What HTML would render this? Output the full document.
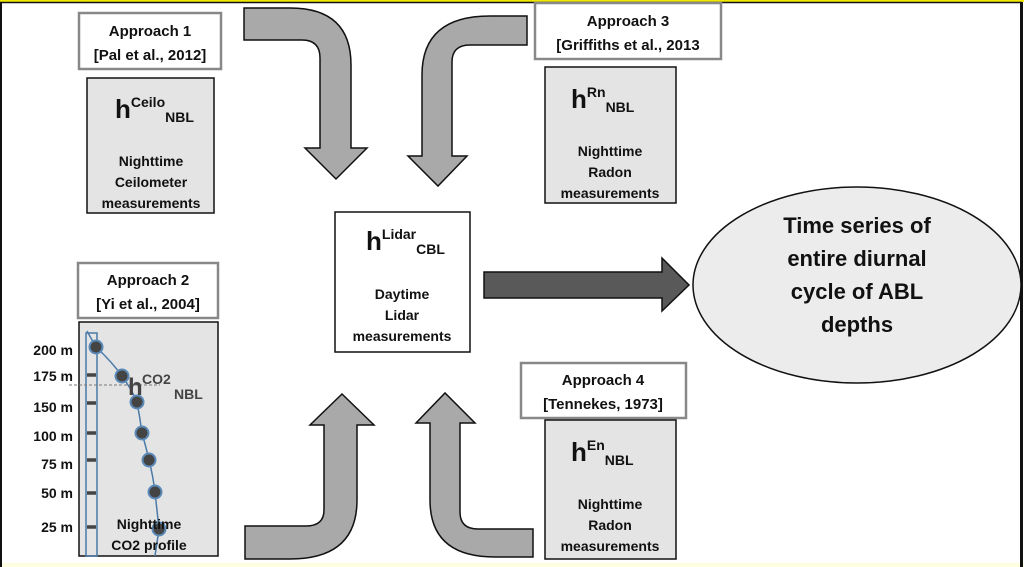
<!DOCTYPE html>
<html><head><meta charset="utf-8"><style>
html,body{margin:0;padding:0;background:#fff}
svg{display:block}
text{font-family:"Liberation Sans",Arial,sans-serif;font-weight:bold;fill:#111}
</style></head><body>
<svg width="1024" height="567" viewBox="0 0 1024 567" xmlns="http://www.w3.org/2000/svg">
<rect x="0" y="0" width="1024" height="567" fill="#fff"/>
<rect x="0" y="563" width="1024" height="4" fill="#fffde0"/>
<rect x="0" y="0" width="1024" height="2" fill="#f0e800"/>
<line x1="0" y1="2.5" x2="1022" y2="2.5" stroke="#111" stroke-width="1.5"/>
<rect x="0" y="2" width="2" height="565" fill="#111"/>
<rect x="1020" y="2" width="3" height="565" fill="#111"/>

<g fill="#a9a9a9" stroke="#111" stroke-width="1.5" stroke-linejoin="miter">
<path d="M244,8 L290,8 Q351,8 351,65 L351,148 L367,148 L336,179 L305,148 L320,148 L320,58 Q320,40 302,40 L244,40 Z"/>
<path d="M527,16 L490,16 Q422,16 422,75 L422,156 L408,156 L438,186 L467,156 L452,156 L452,62 Q452,45 470,45 L527,45 Z"/>
<path d="M245,559 L290,559 Q357,559 357,500 L357,425 L374,425 L342,394 L310,425 L324,425 L324,510 Q324,526 306,526 L245,526 Z"/>
<path d="M533,557 L495,557 Q430,557 430,500 L430,423 L416,423 L445,393 L475,423 L460,423 L460,512 Q460,529 478,529 L533,529 Z"/>
</g>
<path d="M484,272 L662,272 L662,258 L689,285 L662,311 L662,298 L484,298 Z" fill="#595959" stroke="#111" stroke-width="1.5"/>
<ellipse cx="857" cy="285" rx="164" ry="98" fill="#ececec" stroke="#111" stroke-width="1.5"/>
<g font-size="22" text-anchor="middle">
<text x="857" y="233">Time series of</text>
<text x="857" y="266">entire diurnal</text>
<text x="857" y="299">cycle of ABL</text>
<text x="857" y="332">depths</text>
</g>

<g fill="#fff" stroke="#888" stroke-width="2.5">
<rect x="79" y="13" width="142" height="56"/>
<rect x="535" y="3" width="186" height="56"/>
<rect x="78" y="263" width="140" height="55"/>
<rect x="521" y="363" width="165" height="55"/>
</g>
<g font-size="15" text-anchor="middle">
<text x="150" y="36">Approach 1</text><text x="150" y="60">[Pal et al., 2012]</text>
<text x="628" y="26">Approach 3</text><text x="628" y="50">[Griffiths et al., 2013</text>
<text x="148" y="285">Approach 2</text><text x="148" y="309">[Yi et al., 2004]</text>
<text x="603" y="385">Approach 4</text><text x="603" y="409">[Tennekes, 1973]</text>
</g>

<g stroke="#111" stroke-width="1.5">
<rect x="87" y="78" width="127" height="135" fill="#e4e4e4"/>
<rect x="545" y="67" width="131" height="136" fill="#e4e4e4"/>
<rect x="79" y="322" width="139" height="234" fill="#e4e4e4"/>
<rect x="545" y="420" width="131" height="139" fill="#e4e4e4"/>
<rect x="335" y="212" width="135" height="140" fill="#fff"/>
</g>

<g>
<text x="115" y="118" font-size="26">h<tspan font-size="14" dy="-11">Ceilo</tspan><tspan font-size="14" dy="15">NBL</tspan></text>
<text x="571" y="108" font-size="26">h<tspan font-size="14" dy="-11">Rn</tspan><tspan font-size="14" dy="15">NBL</tspan></text>
<text x="571" y="461" font-size="26">h<tspan font-size="14" dy="-11">En</tspan><tspan font-size="14" dy="15">NBL</tspan></text>
<text x="366" y="250" font-size="26">h<tspan font-size="14" dy="-11">Lidar</tspan><tspan font-size="14" dy="15">CBL</tspan></text>
</g>
<g font-size="14" text-anchor="middle">
<text x="151" y="166">Nighttime</text><text x="151" y="187">Ceilometer</text><text x="151" y="208">measurements</text>
<text x="610" y="156">Nighttime</text><text x="610" y="177">Radon</text><text x="610" y="198">measurements</text>
<text x="610" y="509">Nighttime</text><text x="610" y="530">Radon</text><text x="610" y="551">measurements</text>
<text x="402" y="299">Daytime</text><text x="402" y="320">Lidar</text><text x="402" y="341">measurements</text>
</g>

<rect x="86" y="333" width="11" height="223" fill="none" stroke="#4a7aa8" stroke-width="1.5"/>
<g stroke="#444" stroke-width="3.5">
<line x1="87" y1="375" x2="96" y2="375"/><line x1="87" y1="403" x2="96" y2="403"/>
<line x1="87" y1="433" x2="96" y2="433"/><line x1="87" y1="460" x2="96" y2="460"/>
<line x1="87" y1="493" x2="96" y2="493"/><line x1="87" y1="527" x2="96" y2="527"/>
</g>
<line x1="69" y1="385" x2="160" y2="385" stroke="#777" stroke-width="1" stroke-dasharray="3,2"/>
<path d="M87,331 Q92,340 96,347 Q112,362 122,376 Q132,390 137,402 Q140,418 142,433 Q146,447 149,460 Q153,476 155,492 L159,529 L155,556" fill="none" stroke="#4a7aa8" stroke-width="1.5"/>
<g fill="#444" stroke="#5b8ab8" stroke-width="2">
<circle cx="96" cy="347" r="6.5"/><circle cx="122" cy="376" r="6.5"/>
<circle cx="137" cy="402" r="6.5"/><circle cx="142" cy="433" r="6.5"/>
<circle cx="149" cy="460" r="6.5"/><circle cx="155" cy="492" r="6.5"/>
<circle cx="159" cy="529" r="6.5"/>
</g>
<text x="128" y="395" font-size="24" style="fill:#444">h</text>
<text x="142" y="384" font-size="14" style="fill:#444">CO2</text>
<text x="174" y="399" font-size="14" style="fill:#444">NBL</text>
<g font-size="14" text-anchor="end">
<text x="73" y="355">200 m</text><text x="73" y="381">175 m</text>
<text x="73" y="412">150 m</text><text x="73" y="441">100 m</text>
<text x="73" y="469">75 m</text><text x="73" y="498">50 m</text>
<text x="73" y="532">25 m</text>
</g>
<g font-size="14" text-anchor="middle">
<text x="149" y="529">Nighttime</text><text x="149" y="550">CO2 profile</text>
</g>
</svg>
</body></html>
